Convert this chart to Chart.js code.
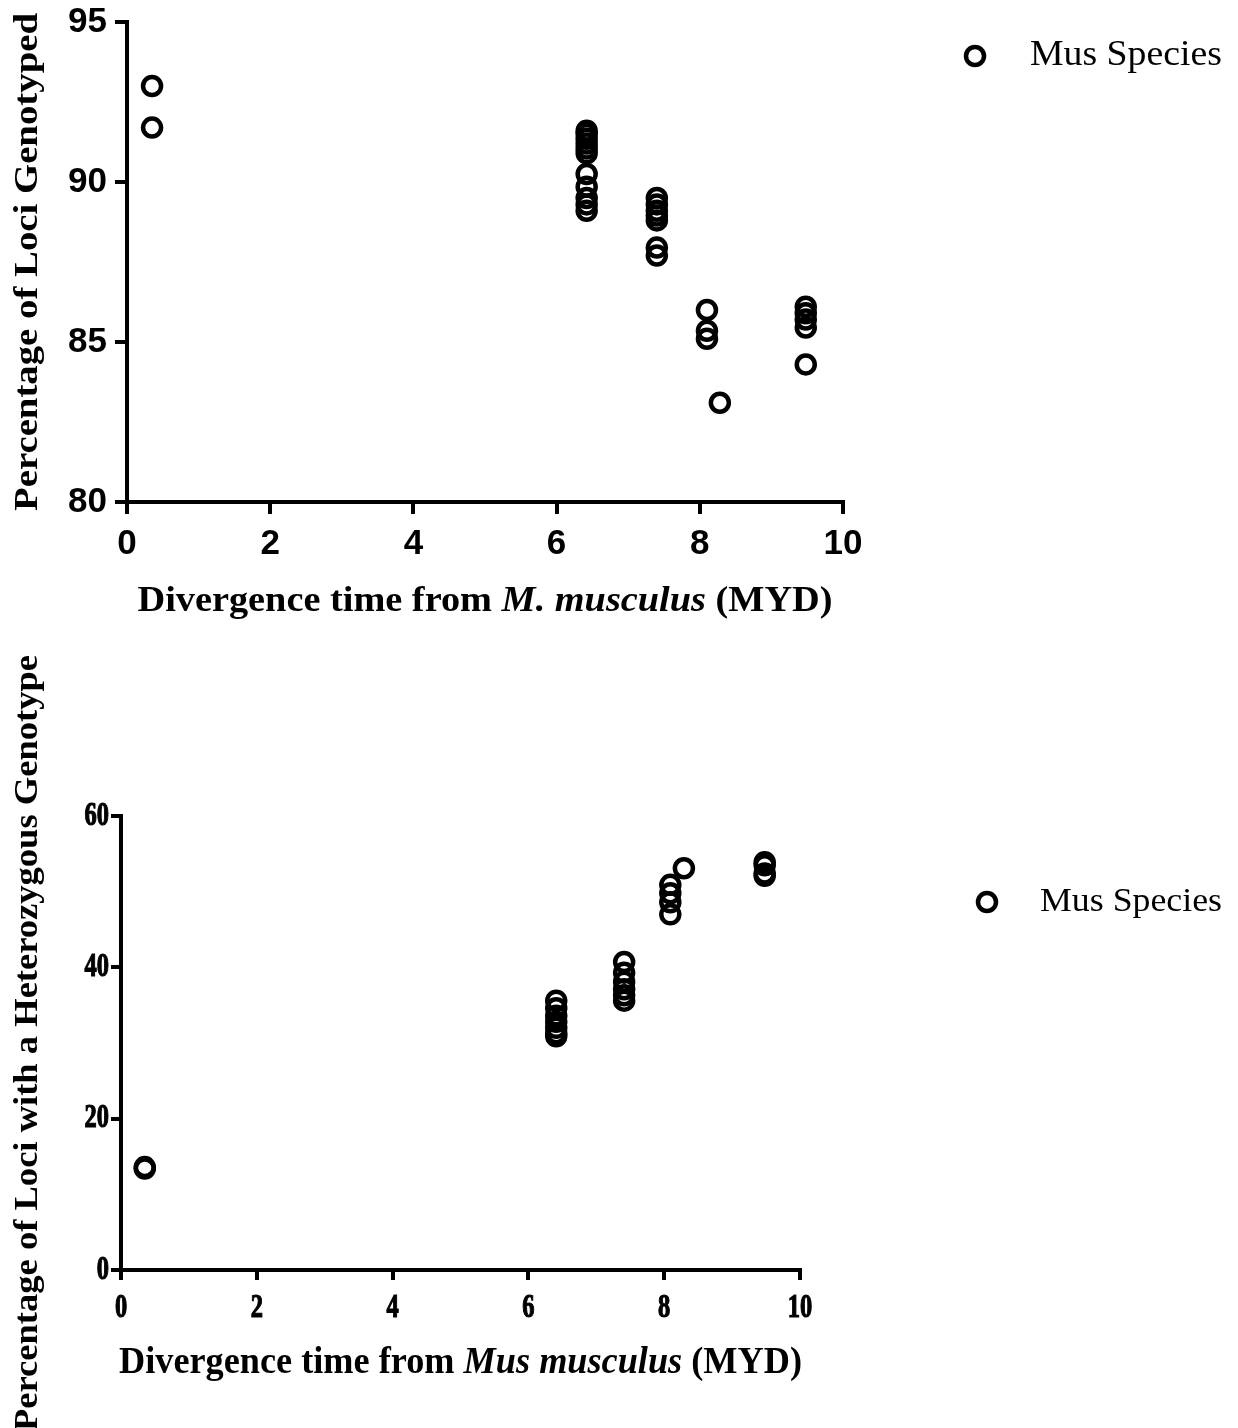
<!DOCTYPE html>
<html>
<head>
<meta charset="utf-8">
<script src="https://cdn.jsdelivr.net/npm/chart.js@4.4.0/dist/chart.umd.min.js"></script>
<style>
  html, body { margin: 0; padding: 0; background: #fff; }
  #wrap { position: relative; width: 1238px; height: 1428px; overflow: hidden; }
  .box { position: absolute; left: 0; width: 1238px; }
  #topBox { top: 0; height: 640px; }
  #bottomBox { top: 640px; height: 788px; }
</style>
</head>
<body>
<div id="wrap">
  <div class="box" id="topBox"><canvas id="genotypedChart"></canvas></div>
  <div class="box" id="bottomBox"><canvas id="heteroChart"></canvas></div>
</div>
<script>
// Percentage of loci genotyped vs divergence time
const topDivergence = [0.35, 0.35,
  6.42, 6.42, 6.42, 6.42, 6.42, 6.42, 6.42, 6.42, 6.42, 6.42, 6.42,
  7.4, 7.4, 7.4, 7.4, 7.4, 7.4, 7.4,
  8.1, 8.1, 8.1,
  8.28,
  9.48, 9.48, 9.48, 9.48, 9.48];
const topGenotyped = [93.0, 91.7,
  91.6, 91.5, 91.35, 91.2, 91.05, 90.9, 90.25, 89.85, 89.5, 89.3, 89.1,
  89.5, 89.3, 89.1, 88.95, 88.8, 87.95, 87.7,
  86.0, 85.35, 85.1,
  83.1,
  86.1, 85.9, 85.7, 85.45, 84.3];

// Percentage of loci with a heterozygous genotype
const bottomDivergence = [0.35, 0.35,
  6.41, 6.41, 6.41, 6.41, 6.41, 6.41, 6.41,
  7.41, 7.41, 7.41, 7.41, 7.41, 7.41,
  8.09, 8.09, 8.09, 8.09,
  8.29,
  9.48, 9.48, 9.48, 9.48];
const bottomHeterozygous = [13.4, 13.6,
  35.6, 34.6, 33.6, 32.8, 32.0, 31.3, 30.9,
  40.7, 39.3, 38.1, 37.1, 36.3, 35.6,
  50.9, 49.8, 48.6, 47.0,
  53.1,
  53.9, 53.5, 52.4, 52.1];

const seriesName = 'Mus Species';

function toPoints(xs, ys) {
  return xs.map((x, i) => ({ x: x, y: ys[i] }));
}

// draws text pieces squeezed/stretched to a target width, centred on (cx, cy)
function drawFitted(ctx, pieces, cx, cy, target, vertical) {
  ctx.save();
  let total = 0;
  pieces.forEach(p => { ctx.font = p.font; p.w = ctx.measureText(p.text).width; total += p.w; });
  ctx.translate(cx, cy);
  if (vertical) ctx.rotate(-Math.PI / 2);
  ctx.scale(target / total, 1);
  ctx.fillStyle = '#000';
  ctx.textBaseline = 'middle';
  ctx.textAlign = 'left';
  let x = -total / 2;
  pieces.forEach(p => { ctx.font = p.font; ctx.fillText(p.text, x, 0); x += p.w; });
  ctx.restore();
}

// narrow serif tick labels (bottom chart), placed from the chart's own scales
function drawNarrowTicks(chart) {
  const ctx = chart.ctx;
  const a = chart.chartArea;
  const sx = chart.scales.x, sy = chart.scales.y;
  const put = (txt, x, y, align) => {
    ctx.save();
    ctx.translate(x, y);
    ctx.scale(0.72, 1);
    ctx.textAlign = align;
    ctx.fillText(txt, 0, 0);
    ctx.strokeText(txt, 0, 0);
    ctx.restore();
  };
  ctx.save();
  ctx.fillStyle = '#000';
  ctx.strokeStyle = '#000';
  ctx.lineWidth = 1.2;
  ctx.font = 'bold 34px "Liberation Serif"';
  ctx.textBaseline = 'middle';
  sx.ticks.forEach(t => put(String(t.value), sx.getPixelForValue(t.value), a.bottom + 38, 'center'));
  sy.ticks.forEach(t => put(String(t.value), a.left - 12, sy.getPixelForValue(t.value), 'right'));
  ctx.restore();
}

function decorations(cfg) {
  return {
    id: 'decor',
    afterDraw(chart) {
      const ctx = chart.ctx;
      const a = chart.chartArea;
      if (cfg.narrowTicks) drawNarrowTicks(chart);
      // y title
      drawFitted(ctx, [{ text: cfg.yTitle, font: cfg.yFont }], 28, (a.top + a.bottom) / 2, cfg.yLen, true);
      // x title
      drawFitted(ctx, cfg.xPieces, (a.left + a.right) / 2, cfg.xTitleY, cfg.xLen, false);
      // legend
      ctx.save();
      ctx.strokeStyle = '#000';
      ctx.lineWidth = 4.5;
      ctx.beginPath();
      ctx.arc(cfg.legX, cfg.legY, 9, 0, Math.PI * 2);
      ctx.stroke();
      ctx.restore();
      ctx.save();
      ctx.font = cfg.legFont;
      const w = ctx.measureText(seriesName).width;
      ctx.translate(cfg.legTextX, cfg.legY);
      ctx.scale(cfg.legW / w, 1);
      ctx.fillStyle = '#000';
      ctx.textBaseline = 'middle';
      ctx.fillText(seriesName, 0, 0);
      ctx.restore();
    }
  };
}

function axisStyle(tickLen) {
  return {
    grid: { display: true, drawOnChartArea: false, drawTicks: true, tickLength: tickLen, lineWidth: 4, color: '#000' },
    border: { display: true, width: 4, color: '#000' }
  };
}

const pointStyleOpts = {
  pointStyle: 'circle',
  pointRadius: 9,
  pointHoverRadius: 9,
  borderWidth: 4.5,
  borderColor: '#000',
  backgroundColor: 'rgba(0,0,0,0)'
};

// Gráfico superior
new Chart(document.getElementById('genotypedChart'), {
  type: 'scatter',
  data: {
    datasets: [Object.assign({ label: seriesName, data: toPoints(topDivergence, topGenotyped) }, pointStyleOpts)]
  },
  options: {
    responsive: true,
    maintainAspectRatio: false,
    animation: false,
    layout: { padding: { top: 22, right: 395, left: 0, bottom: 0 } },
    scales: {
      x: Object.assign({
        type: 'linear', min: 0, max: 10,
        ticks: { stepSize: 2, color: '#000', padding: 9, font: { family: 'Liberation Sans', weight: 'bold', size: 35 } },
        afterFit(s) { s.height = 138; s.paddingLeft = 0; s.paddingRight = 0; }
      }, axisStyle(12)),
      y: Object.assign({
        min: 80, max: 95,
        ticks: { stepSize: 5, color: '#000', padding: 8, font: { family: 'Liberation Sans', weight: 'bold', size: 35 } },
        afterFit(s) { s.width = 127; s.paddingTop = 0; s.paddingBottom = 0; }
      }, axisStyle(12))
    },
    plugins: { legend: { display: false }, tooltip: { enabled: false } }
  },
  plugins: [decorations({
    yTitle: 'Percentage of Loci Genotyped', yFont: 'bold 34px "Liberation Serif"', yLen: 498,
    xPieces: [
      { text: 'Divergence time from ', font: 'bold 35px "Liberation Serif"' },
      { text: 'M. musculus', font: 'italic bold 35px "Liberation Serif"' },
      { text: ' (MYD)', font: 'bold 35px "Liberation Serif"' }
    ],
    xTitleY: 602, xLen: 695,
    legX: 975, legY: 56, legTextX: 1030, legW: 192, legFont: '36px "Liberation Serif"'
  })]
});

// Gráfico inferior
new Chart(document.getElementById('heteroChart'), {
  type: 'scatter',
  data: {
    datasets: [Object.assign({ label: seriesName, data: toPoints(bottomDivergence, bottomHeterozygous) }, pointStyleOpts)]
  },
  options: {
    responsive: true,
    maintainAspectRatio: false,
    animation: false,
    layout: { padding: { top: 176, right: 438, left: 0, bottom: 0 } },
    scales: {
      x: Object.assign({
        type: 'linear', min: 0, max: 10,
        ticks: { stepSize: 2, color: 'rgba(0,0,0,0)', padding: 8, font: { family: 'Liberation Serif', weight: 'bold', size: 30 } },
        afterFit(s) { s.height = 158; s.paddingLeft = 0; s.paddingRight = 0; }
      }, axisStyle(10)),
      y: Object.assign({
        min: 0, max: 60,
        ticks: { stepSize: 20, color: 'rgba(0,0,0,0)', padding: 3, font: { family: 'Liberation Serif', weight: 'bold', size: 30 } },
        afterFit(s) { s.width = 121; s.paddingTop = 0; s.paddingBottom = 0; }
      }, axisStyle(10))
    },
    plugins: { legend: { display: false }, tooltip: { enabled: false } }
  },
  plugins: [decorations({
    narrowTicks: true,
    yTitle: 'Percentage of Loci with a Heterozygous Genotype', yFont: 'bold 34px "Liberation Serif"', yLen: 776,
    xPieces: [
      { text: 'Divergence time from ', font: 'bold 37px "Liberation Serif"' },
      { text: 'Mus musculus', font: 'italic bold 37px "Liberation Serif"' },
      { text: ' (MYD)', font: 'bold 37px "Liberation Serif"' }
    ],
    xTitleY: 723, xLen: 683,
    legX: 987, legY: 262, legTextX: 1040, legW: 182, legFont: '34px "Liberation Serif"'
  })]
});
</script>
</body>
</html>
